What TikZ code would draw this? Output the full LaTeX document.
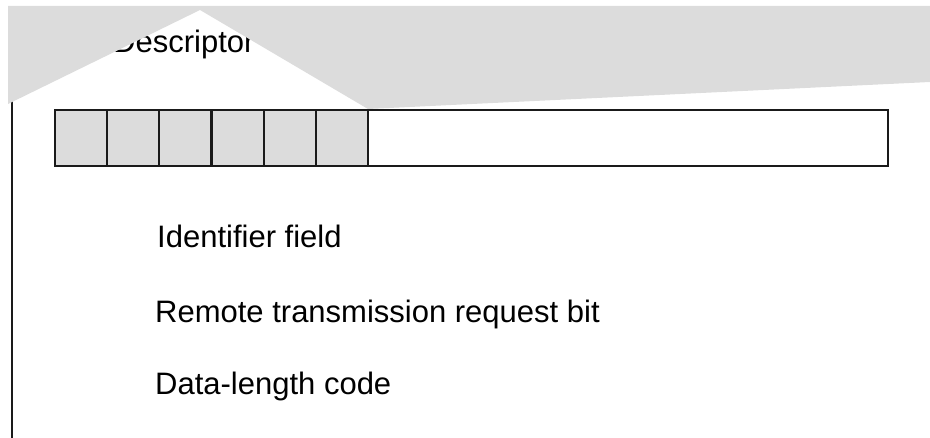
\documentclass[tikz,border=0pt]{standalone}
\usepackage{fontspec}
\setmainfont{Liberation Sans}
\definecolor{bandgrey}{HTML}{DCDCDC}
\definecolor{ink}{HTML}{1A1A1A}
\tikzset{
  cell/.style={draw=ink, fill=bandgrey, line width=2pt, minimum width=52pt, minimum height=56pt, inner sep=0pt, outer sep=0pt},
  field/.style={draw=ink, fill=white, line width=2pt, minimum width=833pt, minimum height=56pt, inner sep=0pt, outer sep=0pt},
  lbl/.style={anchor=base west, inner sep=0pt, font=\fontsize{31}{37}\selectfont, text=black},
}
\begin{document}
\begin{tikzpicture}[x=1pt,y=-1pt]
\useasboundingbox (0,0) rectangle (930,438);
% left rail
\coordinate (railtop) at (12,100);
\coordinate (railbot) at (12,438);
\draw[ink, line width=2pt] (railtop) -- (railbot);
% title text (partly covered by the grey band)
\node[lbl] (desc) at (113,53) {Descriptor};
% grey band with the white notch
\fill[bandgrey] (8,6) -- (930,6) -- (930,82) -- (368,109) -- (200,10) -- (8,104) -- cycle;
% field row
\node[field, anchor=west] (f) at (55,138) {};
\foreach \i in {0,...,5}{
  \node[cell, anchor=west] (c\i) at ({55+52.17*\i},138) {};
}
% labels
\node[lbl] (id) at (157,248) {Identifier field};
\node[lbl] (rtr) at (155,323) {Remote transmission request bit};
\node[lbl] (dlc) at (155,395) {Data-length code};
\end{tikzpicture}
\end{document}
